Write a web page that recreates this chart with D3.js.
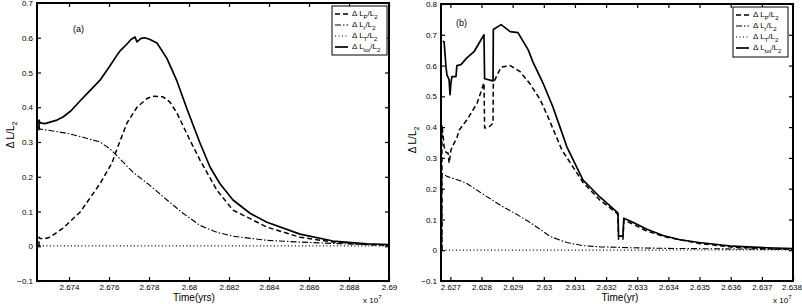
<!DOCTYPE html>
<html>
<head>
<meta charset="utf-8">
<script src="https://cdn.jsdelivr.net/npm/d3@7"></script>
<style>
body { margin: 0; background: #fff; }
svg { display: block; font-family: "Liberation Sans", Arial, Helvetica, sans-serif; }
</style>
</head>
<body>
<div id="chart"></div>
<script>
/* two panels of Delta L / L2 against time (x 10^7 yr) */

// ---- panel (a) ----
const aXTicks = [2.674, 2.676, 2.678, 2.68, 2.682, 2.684, 2.686, 2.688, 2.69];
const aYTicks = [-0.1, 0, 0.1, 0.2, 0.3, 0.4, 0.5, 0.6, 0.7];
const aLp = [[2.6725,0],[2.6725,0.026],[2.67255,0.022],[2.6728,0.022],[2.67305,0.026],[2.6737,0.052],
  [2.67455,0.098],[2.6747,0.11],[2.67555,0.18],[2.67615,0.24],[2.6764,0.28],[2.6769,0.355],[2.6774,0.40],
  [2.6779,0.425],[2.6782,0.432],[2.6787,0.43],[2.67905,0.415],[2.6794,0.383],[2.68005,0.305],[2.68055,0.248],
  [2.6814,0.161],[2.6822,0.104],[2.6839,0.055],[2.68555,0.026],[2.6872,0.012],[2.6889,0.005],[2.69,0.003]];
const aLr = [[2.6725,0.345],[2.67255,0.337],[2.67305,0.333],[2.6739,0.325],[2.67455,0.316],[2.67555,0.30],
  [2.67605,0.28],[2.6764,0.26],[2.6772,0.213],[2.67805,0.175],[2.6789,0.133],[2.6797,0.095],[2.68055,0.06],
  [2.6814,0.04],[2.6822,0.029],[2.6839,0.017],[2.68555,0.012],[2.6872,0.008],[2.6889,0.005],[2.69,0.004]];
const aLT = [[2.6725,0],[2.6725,0.006],[2.67255,0.001],[2.69,0.001]];
const aLtot = [[2.6725,0.334],[2.6725,0.363],[2.67255,0.355],[2.6728,0.353],[2.67305,0.357],[2.6734,0.363],
  [2.6737,0.372],[2.6741,0.39],[2.67455,0.418],[2.675,0.445],[2.67555,0.478],[2.676,0.515],[2.6764,0.55],
  [2.67655,0.562],[2.6769,0.582],[2.6771,0.595],[2.6773,0.602],[2.6774,0.588],[2.6776,0.598],[2.6778,0.60],
  [2.67805,0.595],[2.6784,0.585],[2.6789,0.54],[2.6794,0.475],[2.6799,0.395],[2.68055,0.297],[2.68105,0.228],
  [2.68155,0.18],[2.6822,0.133],[2.68305,0.095],[2.6839,0.069],[2.68555,0.035],[2.6872,0.015],[2.6889,0.007],
  [2.69,0.005]];

// ---- panel (b) ----
const bXTicks = [2.627, 2.628, 2.629, 2.63, 2.631, 2.632, 2.633, 2.634, 2.635, 2.636, 2.637, 2.638];
const bYTicks = [-0.1, 0, 0.1, 0.2, 0.3, 0.4, 0.5, 0.6, 0.7, 0.8];
const bLp = [[2.62673,0],[2.62673,0.407],[2.62676,0.38],[2.6268,0.336],[2.62686,0.318],[2.62693,0.315],
  [2.62696,0.283],[2.62702,0.326],[2.62712,0.348],[2.62721,0.365],[2.62728,0.39],[2.62753,0.423],
  [2.62786,0.478],[2.62808,0.544],[2.6281,0.397],[2.62824,0.40],[2.62837,0.413],[2.62838,0.544],
  [2.62863,0.595],[2.62892,0.60],[2.62924,0.58],[2.62956,0.54],[2.62988,0.49],[2.63013,0.434],
  [2.63058,0.326],[2.63126,0.22],[2.6318,0.163],[2.63235,0.12],[2.63238,0.114],[2.6324,0.036],
  [2.63254,0.036],[2.63257,0.098],[2.63286,0.085],[2.63331,0.062],[2.63396,0.042],[2.63499,0.022],
  [2.63607,0.01],[2.63717,0.005],[2.638,0.003]];
const bLr = [[2.62673,0],[2.62673,0.25],[2.62689,0.24],[2.62734,0.225],[2.62753,0.217],[2.62808,0.18],
  [2.62863,0.145],[2.62924,0.11],[2.62956,0.09],[2.62988,0.068],[2.6302,0.045],[2.63074,0.025],
  [2.63126,0.015],[2.6318,0.011],[2.63286,0.008],[2.63396,0.006],[2.63607,0.004],[2.638,0.003]];
const bLT = [[2.62673,0],[2.638,0.001]];
const bLtot = [[2.62676,0.68],[2.6268,0.677],[2.62686,0.596],[2.62689,0.57],[2.62696,0.554],[2.62699,0.505],
  [2.62702,0.544],[2.62705,0.564],[2.62718,0.564],[2.62721,0.60],[2.62734,0.603],[2.62753,0.625],
  [2.62776,0.645],[2.62808,0.70],[2.6281,0.557],[2.62837,0.55],[2.62838,0.717],[2.62863,0.733],
  [2.62892,0.71],[2.62917,0.707],[2.6295,0.651],[2.62965,0.612],[2.62997,0.544],[2.63029,0.466],
  [2.63052,0.40],[2.63074,0.336],[2.63126,0.228],[2.6318,0.173],[2.63235,0.124],[2.63238,0.121],
  [2.6324,0.046],[2.63254,0.046],[2.63257,0.104],[2.63286,0.091],[2.63331,0.068],[2.63383,0.048],
  [2.63437,0.034],[2.63499,0.025],[2.63607,0.013],[2.63717,0.008],[2.638,0.005]];

const legendSubs = ["P", "r", "T", "tot"];
const styles = [
  {dash: "5,3", width: 1.5},
  {dash: "6,2,1.5,2", width: 1.1},
  {dash: "1,2.5", width: 1.2},
  {dash: null, width: 1.7}
];

const svg = d3.select("#chart").append("svg")
  .attr("width", 802).attr("height", 304);
svg.append("rect").attr("width", 802).attr("height", 304).attr("fill", "#fff");

const panels = [
  {id: "a", left: 37, right: 389, top: 3, bottom: 281, xDomain: [2.6724, 2.69], yDomain: [-0.1, 0.7],
   xTicks: aXTicks, yTicks: aYTicks, series: [aLp, aLr, aLT, aLtot], tag: "(a)", tagX: 73, tagY: 32,
   xLabel: "Time(yrs)", xLabelX: 194, expX: 363, yLabelX: 14, yLabelY: 135,
   legX: 332, legY: 6, legW: 55, legH: 49},
  {id: "b", left: 441, right: 793, top: 4, bottom: 281, xDomain: [2.6267, 2.638], yDomain: [-0.1, 0.8],
   xTicks: bXTicks, yTicks: bYTicks, series: [bLp, bLr, bLT, bLtot], tag: "(b)", tagX: 456, tagY: 26,
   xLabel: "Time(yr)", xLabelX: 620, expX: 773, yLabelX: 416, yLabelY: 140,
   legX: 733, legY: 7, legW: 55, legH: 50}
];

function fmtY(d) {
  if (Math.abs(d) < 1e-9) return "0";
  return d < 0 ? "\u2212" + Math.abs(d).toFixed(1) : d.toFixed(1);
}

function drawPanel(p) {
  const x = d3.scaleLinear().domain(p.xDomain).range([p.left, p.right]);
  const y = d3.scaleLinear().domain(p.yDomain).range([p.bottom, p.top]);
  const g = svg.append("g");

  g.append("clipPath").attr("id", "clip-" + p.id)
    .append("rect").attr("x", p.left).attr("y", p.top)
    .attr("width", p.right - p.left).attr("height", p.bottom - p.top);

  // axes, ticks inward on all four sides
  const xb = g.append("g").attr("transform", "translate(0," + p.bottom + ")")
    .call(d3.axisBottom(x).tickValues(p.xTicks).tickSize(-4).tickPadding(3)
      .tickFormat(d => String(+d.toFixed(3))));
  const xt = g.append("g").attr("transform", "translate(0," + p.top + ")")
    .call(d3.axisTop(x).tickValues(p.xTicks).tickSize(-4).tickFormat(""));
  const yl = g.append("g").attr("transform", "translate(" + p.left + ",0)")
    .call(d3.axisLeft(y).tickValues(p.yTicks).tickSize(-4).tickPadding(4).tickFormat(fmtY));
  const yr = g.append("g").attr("transform", "translate(" + p.right + ",0)")
    .call(d3.axisRight(y).tickValues(p.yTicks).tickSize(-4).tickFormat(""));
  [xb, xt, yl, yr].forEach(a => {
    a.select(".domain").remove();
    a.selectAll("line").attr("stroke", "#000").attr("stroke-width", 1.2);
    a.selectAll("text").attr("fill", "#000").style("font-size", "8px")
      .style("font-family", '"Liberation Sans", Arial, sans-serif');
  });
  // last x label sits at the page edge, keep it inside
  xb.selectAll(".tick:last-of-type text").attr("dx", p.id === "b" ? -1.5 : 0);

  // lines
  const line = d3.line().x(d => x(d[0])).y(d => y(d[1]));
  p.series.forEach((s, i) => {
    g.append("path").datum(s)
      .attr("clip-path", "url(#clip-" + p.id + ")")
      .attr("fill", "none").attr("stroke", "#000")
      .attr("stroke-width", styles[i].width)
      .attr("stroke-dasharray", styles[i].dash)
      .attr("stroke-linejoin", "round")
      .attr("d", line);
  });

  // frame
  g.append("rect").attr("x", p.left).attr("y", p.top)
    .attr("width", p.right - p.left).attr("height", p.bottom - p.top)
    .attr("fill", "none").attr("stroke", "#000").attr("stroke-width", 2);

  // panel tag
  g.append("text").attr("x", p.tagX).attr("y", p.tagY)
    .style("font-size", "9px").text(p.tag);

  // x label and exponent
  g.append("text").attr("x", p.xLabelX).attr("y", 301)
    .attr("text-anchor", "middle").style("font-size", "10px").text(p.xLabel);
  const ex = g.append("text").attr("x", p.expX).attr("y", 303).style("font-size", "8px");
  ex.append("tspan").text("x 10");
  ex.append("tspan").attr("dy", -4).style("font-size", "6px").text("7");

  // y label
  const yt = g.append("text")
    .attr("transform", "translate(" + p.yLabelX + "," + p.yLabelY + ") rotate(-90)")
    .attr("text-anchor", "middle").style("font-size", "10px");
  yt.append("tspan").text("\u0394 L/L");
  yt.append("tspan").attr("dy", 3).style("font-size", "7px").text("2");

  // legend
  const lg = g.append("g");
  lg.append("rect").attr("x", p.legX).attr("y", p.legY)
    .attr("width", p.legW).attr("height", p.legH)
    .attr("fill", "#fff").attr("stroke", "#000").attr("stroke-width", 1);
  legendSubs.forEach((sub, i) => {
    const cy = p.legY + 8 + i * 11;
    lg.append("line").attr("x1", p.legX + 3).attr("x2", p.legX + 16)
      .attr("y1", cy).attr("y2", cy).attr("stroke", "#000")
      .attr("stroke-width", styles[i].width)
      .attr("stroke-dasharray", styles[i].dash);
    const t = lg.append("text").attr("x", p.legX + 20).attr("y", cy + 2).style("font-size", "8px");
    t.append("tspan").text("\u0394 L");
    t.append("tspan").attr("dy", 2.5).style("font-size", "6px").text(sub);
    t.append("tspan").attr("dy", -2.5).text("/L");
    t.append("tspan").attr("dy", 2.5).style("font-size", "6px").text("2");
  });
}

panels.forEach(drawPanel);
</script>
</body>
</html>
